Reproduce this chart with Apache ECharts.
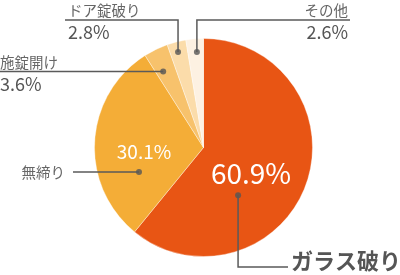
<!DOCTYPE html>
<html><head><meta charset="utf-8">
<script src="https://cdn.jsdelivr.net/npm/echarts@6/dist/echarts.min.js"></script>
<style>html,body{margin:0;padding:0;background:#fff}#c{width:400px;height:275px}</style>
</head><body><div id="c"></div>
<script>
const categories = ['ガラス破り', '無締り', '施錠開け', 'ドア錠破り', 'その他'];
const values = [60.9, 30.1, 3.6, 2.8, 2.6];
const percentLabels = ['60.9%', '30.1%', '3.6%', '2.8%', '2.6%'];

const colors = ['#e85514', '#f4ad37', '#f7c26c', '#fbdcaa', '#fdf1e2'];
const CX = 203.5, CY = 147.5, R = 109;
const FONT = "'Noto Sans CJK JP', 'Noto Sans', sans-serif";
// dot anchor for each slice: [radius fraction, fraction of slice angle]
const dotAnchor = [[0.54, 0.657], [0.633, 0.277], [0.79, 0.347], [0.906, 0.446], [0.878, 0.577]];

const total = values.reduce((a, b) => a + b, 0);
const starts = [];
{ let s = 0; values.forEach(v => { starts.push(s); s += v; }); }
function dotPct(i) { return starts[i] + values[i] * dotAnchor[i][1]; }
function dotPixel(i) {
  const a = dotPct(i) / total * 2 * Math.PI;
  const r = dotAnchor[i][0] * R;
  return [CX + r * Math.sin(a), CY - r * Math.cos(a)];
}

// label layouts (text box positions and leader line elbows)
const labelPlace = [
  { x: 291, y: 261, align: 'left', verticalAlign: 'middle', line: d => [d, [d[0], 267], [288, 267]] },
  { x: 65, y: 172, align: 'right', verticalAlign: 'middle', line: d => [d, [73, d[1]]] },
  { x: 0, y: 52, align: 'left', verticalAlign: 'top', line: d => [d, [0, d[1]]] },
  { x: 68, y: 0, align: 'left', verticalAlign: 'top', line: d => [d, [d[0], 20], [65, 20]] },
  { x: 348, y: 0, align: 'right', verticalAlign: 'top', line: d => [d, [d[0], 20], [350, 20]] }
];
const innerPlace = [{ x: 251, y: 173 }, { x: 144, y: 152 }];

const leaderLines = categories.map((n, i) => ({
  type: 'polyline', silent: true, z: 10,
  shape: { points: labelPlace[i].line(dotPixel(i)) },
  style: { stroke: '#5a5a5a', lineWidth: 1.5, fill: null }
}));

const chart = echarts.init(document.getElementById('c'), null, { renderer: 'canvas' });
chart.setOption({
  animation: false,
  graphic: leaderLines,
  polar: { center: [CX, CY], radius: R },
  angleAxis: { type: 'value', min: 0, max: total, startAngle: 90, clockwise: true, show: false },
  radiusAxis: { type: 'value', min: 0, max: 1, show: false },
  series: [
    {
      type: 'pie', center: [CX, CY], radius: R, startAngle: 90, clockwise: true,
      avoidLabelOverlap: false, silent: true,
      itemStyle: { borderColor: 'rgba(255,255,255,0.6)', borderWidth: 0.6 },
      data: categories.map((n, i) => ({
        name: n, value: values[i], itemStyle: { color: colors[i] },
        label: i === 0
          ? { formatter: '{b|' + n + '}' }
          : i === 1 ? { formatter: '{n|' + n + '}' }
          : { formatter: '{n|' + n + '}\n{p|' + percentLabels[i] + '}' }
      })),
      label: {
        show: true, position: 'outside', fontFamily: FONT,
        rich: {
          n: { fontSize: 14.5, color: '#666', lineHeight: 20, fontFamily: FONT },
          p: { fontSize: 18, color: '#555', lineHeight: 24, fontFamily: FONT },
          b: { fontSize: 22, color: '#555', fontWeight: 'bold', lineHeight: 26, fontFamily: FONT }
        }
      },
      labelLine: { show: false },
      labelLayout: function (p) {
        const L = labelPlace[p.dataIndex];
        return { x: L.x, y: L.y, align: L.align, verticalAlign: L.verticalAlign };
      }
    },
    {
      type: 'pie', center: [CX, CY], radius: R, startAngle: 90, clockwise: true,
      avoidLabelOverlap: false, silent: true, z: 3,
      itemStyle: { color: 'rgba(0,0,0,0)' },
      data: categories.map((n, i) => ({
        name: n, value: values[i],
        label: { show: i < 2, formatter: percentLabels[i], fontSize: i === 0 ? 28 : 19 }
      })),
      label: { position: 'inside', color: '#fff', fontFamily: FONT },
      labelLine: { show: false },
      labelLayout: function (p) {
        const P = innerPlace[p.dataIndex];
        if (!P) return {};
        return { x: P.x, y: P.y, align: 'center', verticalAlign: 'middle' };
      }
    },
    {
      type: 'scatter', coordinateSystem: 'polar', silent: true, z: 5,
      symbol: 'circle', symbolSize: 6,
      itemStyle: { color: '#555' },
      data: categories.map((n, i) => [dotAnchor[i][0], dotPct(i)])
    }
  ]
});
</script></body></html>
